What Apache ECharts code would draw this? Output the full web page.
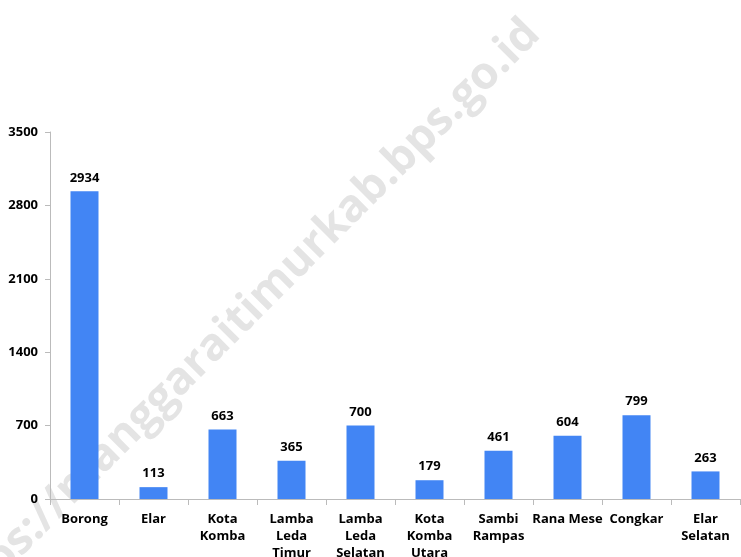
<!DOCTYPE html>
<html>
<head>
<meta charset="utf-8">
<script src="https://cdn.jsdelivr.net/npm/echarts@6/dist/echarts.min.js"></script>
<style>
  html, body { margin: 0; padding: 0; background: #fff; }
  #chart { width: 741px; height: 557px; }
</style>
</head>
<body>
<div id="chart"></div>
<script>
  // kecamatan
  var categories = ['Borong', 'Elar', 'Kota\nKomba', 'Lamba\nLeda\nTimur', 'Lamba\nLeda\nSelatan',
    'Kota\nKomba\nUtara', 'Sambi\nRampas', 'Rana Mese', 'Congkar', 'Elar\nSelatan']
  var values = [2934, 113, 663, 365, 700, 179, 461, 604, 799, 263]
  var yTicks = [0, 700, 1400, 2100, 2800, 3500]

  var chart = echarts.init(document.getElementById('chart'))
  var option = {
    animation: false,
    grid: { left: 50, right: 1, top: 132, bottom: 58, outerBoundsMode: 'none', containLabel: false },
    graphic: [{
      type: 'text',
      x: 238, y: 322,
      rotation: Math.PI / 4,
      style: {
        text: 'https://manggaraitimurkab.bps.go.id',
        font: 'bold 45px "Open Sans"',
        fill: '#e4e4e4',
        align: 'center',
        verticalAlign: 'middle'
      },
      z: -1
    }],
    xAxis: {
      type: 'category',
      data: categories,
      axisLine: { lineStyle: { color: '#bbb', width: 1 } },
      axisTick: { show: true, length: 6, lineStyle: { color: '#bbb' } },
      axisLabel: {
        interval: 0,
        margin: 12,
        color: '#000',
        fontWeight: 'bold',
        fontSize: 13,
        lineHeight: 17,
        fontFamily: 'Open Sans'
      }
    },
    yAxis: {
      type: 'value',
      min: yTicks[0],
      max: yTicks[yTicks.length - 1],
      interval: 700,
      axisLine: { show: true, lineStyle: { color: '#bbb', width: 1 } },
      axisTick: { show: true, length: 5, lineStyle: { color: '#bbb' } },
      splitLine: { show: false },
      axisLabel: {
        margin: 12,
        color: '#000',
        fontWeight: 'bold',
        fontSize: 13,
        fontFamily: 'Open Sans',
        formatter: function (v) { return String(v) }
      }
    },
    series: [{
      type: 'bar',
      data: values,
      barWidth: 28,
      itemStyle: { color: '#4285F4' },
      label: {
        show: true,
        position: 'top',
        distance: 7,
        color: '#000',
        fontWeight: 'bold',
        fontSize: 13,
        fontFamily: 'Open Sans'
      }
    }]
  }
  chart.setOption(option)
</script>
</body>
</html>
